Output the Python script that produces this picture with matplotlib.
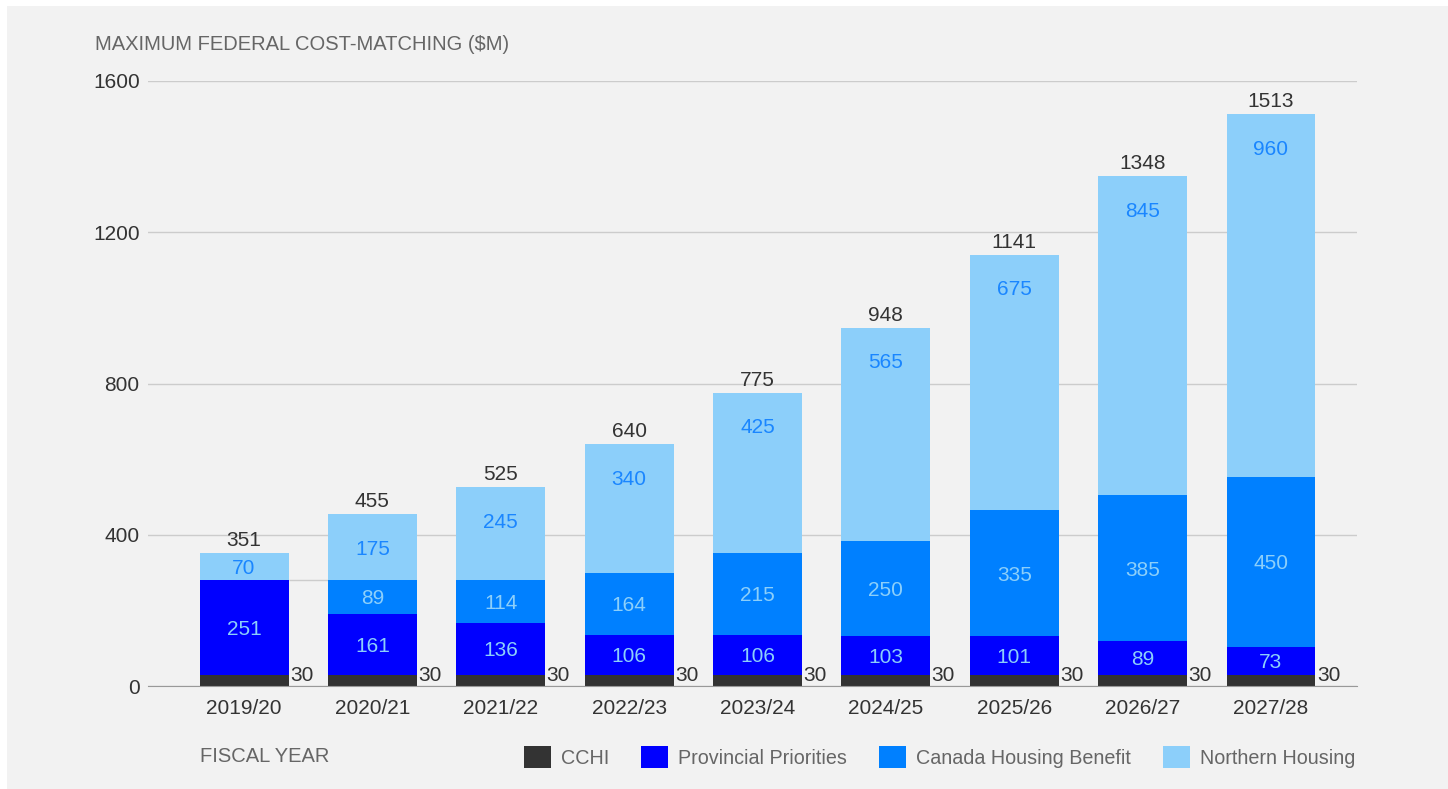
import numpy as np
import matplotlib
matplotlib.use("Agg")
import matplotlib.pyplot as plt
from matplotlib.patches import Rectangle

# data
years = ["2019/20", "2020/21", "2021/22", "2022/23", "2023/24",
         "2024/25", "2025/26", "2026/27", "2027/28"]
cchi = [30, 30, 30, 30, 30, 30, 30, 30, 30]
provincial = [251, 161, 136, 106, 106, 103, 101, 89, 73]
housing_benefit = [0, 89, 114, 164, 215, 250, 335, 385, 450]
northern = [70, 175, 245, 340, 425, 565, 675, 845, 960]
totals = [351, 455, 525, 640, 775, 948, 1141, 1348, 1513]
y_ticks = [0, 400, 800, 1200, 1600]

c_cchi = "#333333"
c_prov = "#0000ff"
c_chb = "#0080ff"
c_north = "#8ccffa"
c_text = "#333333"
c_gray = "#666666"

plt.rcParams["font.family"] = ["Liberation Sans", "DejaVu Sans"]

fig = plt.figure(figsize=(14.48, 7.89), dpi=100, facecolor="white")
fig.patches.append(Rectangle((7 / 1448, 0), 1, 1 - 6 / 789, transform=fig.transFigure,
                             facecolor="#f2f2f2", edgecolor="none", zorder=-10))

ax = fig.add_axes([148 / 1448, 1 - 686 / 789, (1357 - 148) / 1448, 605 / 789])
ax.set_facecolor("none")

x = np.arange(len(years))
w = 0.693
cchi = np.array(cchi)
provincial = np.array(provincial)
housing_benefit = np.array(housing_benefit)
northern = np.array(northern)

b1 = ax.bar(x, cchi, w, color=c_cchi, label="CCHI", zorder=3)
b2 = ax.bar(x, provincial, w, bottom=cchi, color=c_prov, label="Provincial Priorities", zorder=3)
bot3 = cchi + provincial
b3 = ax.bar(x, housing_benefit, w, bottom=bot3, color=c_chb, label="Canada Housing Benefit", zorder=3)
bot4 = bot3 + housing_benefit
b4 = ax.bar(x, northern, w, bottom=bot4, color=c_north, label="Northern Housing", zorder=3)

fs = 15
vc = "center_baseline"
for i in range(len(years)):
    ax.text(x[i] + w / 2 + 0.01, cchi[i] / 2 + 17, str(cchi[i]), ha="left", va=vc,
            fontsize=fs, color=c_text, zorder=4)
    ax.text(x[i], cchi[i] + provincial[i] / 2, str(provincial[i]), ha="center", va=vc,
            fontsize=fs, color=c_north, zorder=4)
    if housing_benefit[i] > 0:
        ax.text(x[i], bot3[i] + housing_benefit[i] / 2, str(housing_benefit[i]), ha="center",
                va=vc, fontsize=fs, color=c_north, zorder=4)
    top = bot4[i] + northern[i]
    ny = max(bot4[i] + northern[i] / 2, top - 88)
    ax.text(x[i], ny, str(northern[i]), ha="center", va=vc,
            fontsize=fs, color="#1a86ff", zorder=4)
    ax.text(x[i], totals[i] + 8, str(totals[i]), ha="center", va="bottom",
            fontsize=fs, color=c_text, zorder=4)

# short connector after the first bar
ax.hlines(bot3[0], x[0] + w / 2, x[1] - w / 2, color="#cccccc", lw=1, zorder=2)

ax.set_xlim(-0.748, 8.67)
ax.set_ylim(0, 1600)
ax.set_yticks(y_ticks)
ax.set_xticks(x)
ax.set_xticklabels(years)
ax.tick_params(axis="both", length=0, labelsize=fs, colors=c_text)
ax.tick_params(axis="x", pad=9)
ax.tick_params(axis="y", pad=6)
ax.grid(axis="y", color="#cccccc", lw=1, zorder=0)
for s in ["top", "right", "left"]:
    ax.spines[s].set_visible(False)
ax.spines["bottom"].set_color("#999999")
ax.spines["bottom"].set_zorder(5)

fig.text(95 / 1448, 1 - 45 / 789, "MAXIMUM FEDERAL COST-MATCHING ($M)", fontsize=14.5,
         color=c_gray, ha="left", va="center")
fig.text(200 / 1448, 1 - 757 / 789, "FISCAL YEAR", fontsize=14.5, color=c_gray,
         ha="left", va="center")

leg = fig.legend(handles=[b1, b2, b3, b4], loc="center right",
                 bbox_to_anchor=(1355 / 1448, 1 - 757 / 789), ncol=4, frameon=False,
                 fontsize=14.2, handlelength=1.35, handleheight=1.35, handletextpad=0.5,
                 columnspacing=1.65, labelcolor=c_gray, borderaxespad=0, borderpad=0)

fig.savefig("out.png", dpi=100, facecolor=fig.get_facecolor())
